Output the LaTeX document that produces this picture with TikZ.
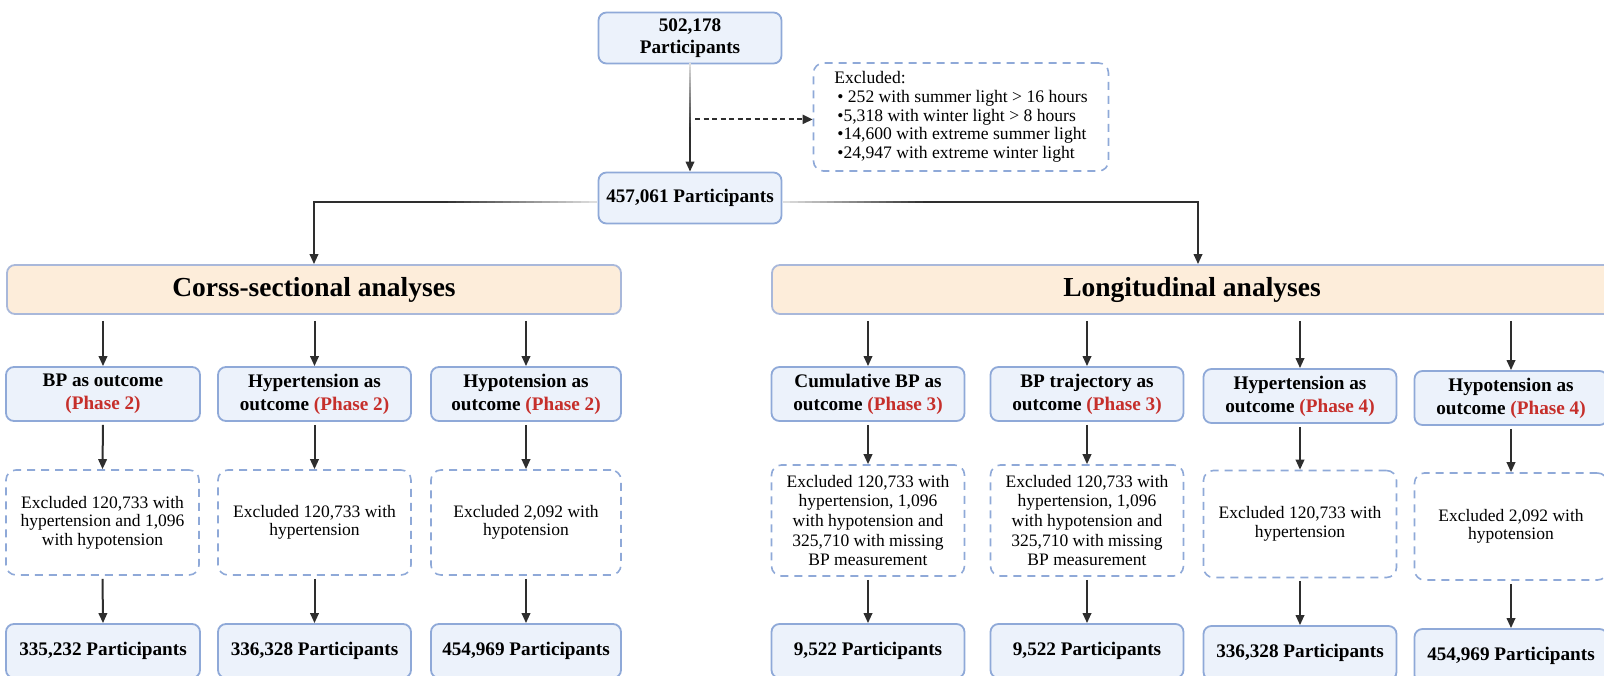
\documentclass[tikz,border=0pt]{standalone}
\usepackage{fontspec}
\setmainfont{Liberation Serif}
\usetikzlibrary{arrows.meta,calc}
\definecolor{boxfill}{HTML}{ECF2FB}
\definecolor{boxdraw}{HTML}{8FA9D8}
\definecolor{headfill}{HTML}{FDEDDA}
\definecolor{headdraw}{HTML}{A9B8DA}
\definecolor{phred}{HTML}{C62F2B}
\definecolor{arr}{HTML}{2E2E2E}
\newcommand{\ph}[1]{\textcolor{phred}{(Phase #1)}}
\begin{document}
\begin{tikzpicture}[x=1pt,y=-1pt,
  bluebox/.style={draw=boxdraw,fill=boxfill,line width=1.8pt,rounded corners=8pt,align=center,
    font=\fontsize{19.2}{23}\selectfont\bfseries,inner sep=0pt,minimum width=193pt,minimum height=54pt},
  headbox/.style={draw=headdraw,fill=headfill,line width=1.8pt,rounded corners=8pt,
    font=\fontsize{27.5}{30}\selectfont\bfseries,inner sep=0pt,minimum height=49pt},
  dbox/.style={draw=boxdraw,line width=1.6pt,dash pattern=on 8pt off 6pt,rounded corners=10pt,
    align=center,font=\fontsize{17.5}{18.6}\selectfont,inner sep=0pt,minimum width=193pt,minimum height=105pt},
  arrow/.style={draw=arr,line width=2pt,-{Triangle[length=10pt,width=8.5pt]}},
  fadeseg/.style={line width=2pt},
]
\useasboundingbox (0,0) rectangle (1604,675);
\clip (0,0) rectangle (1604,675);

% top part
\node[bluebox,minimum width=183pt,minimum height=51pt,font=\fontsize{19.2}{21.5}\selectfont\bfseries] (top) at (690,38) {502,178\\Participants};
\node[dbox,minimum width=295pt,minimum height=108pt,align=left,font=\fontsize{17.6}{18.7}\selectfont] (excl) at (961,117)
  {Excluded:\\\hspace*{3pt}• 252 with summer light > 16 hours\\\hspace*{3pt}•5,318 with winter light > 8 hours\\\hspace*{3pt}•14,600 with extreme summer light\\\hspace*{3pt}•24,947 with extreme winter light};
\node[bluebox,minimum width=183pt,minimum height=51pt] (n457) at (690,198) {457,061 Participants};

% section headers
\node[headbox,minimum width=614pt] (cross) at (314,289.5) {Corss-sectional analyses};
\node[headbox,minimum width=840pt] (long) at (1192,289.5) {Longitudinal analyses};

% phase boxes
\node[bluebox,minimum width=194pt] (p1) at (103,394) {BP as outcome\\\ph{2}};
\node[bluebox] (p2) at (314.5,394) {Hypertension as\\outcome \ph{2}};
\node[bluebox,minimum width=190pt] (p3) at (526,394) {Hypotension as\\outcome \ph{2}};
\node[bluebox] (p4) at (868,394) {Cumulative BP as\\outcome \ph{3}};
\node[bluebox] (p5) at (1087,394) {BP trajectory as\\outcome \ph{3}};
\node[bluebox] (p6) at (1300,396) {Hypertension as\\outcome \ph{4}};
\node[bluebox] (p7) at (1511,398) {Hypotension as\\outcome \ph{4}};

% exclusion boxes
\node[dbox,minimum width=193pt] (d1) at (102.5,522.5) {Excluded 120,733 with\\hypertension and 1,096\\with hypotension};
\node[dbox] (d2) at (314.5,522.5) {Excluded 120,733 with\\hypertension};
\node[dbox,minimum width=190pt] (d3) at (526,522.5) {Excluded 2,092 with\\hypotension};
\node[dbox,minimum height=111pt,font=\fontsize{17.5}{19.6}\selectfont] (d4) at (868,520.5) {Excluded 120,733 with\\hypertension, 1,096\\with hypotension and\\325,710 with missing\\BP measurement};
\node[dbox,minimum height=111pt,font=\fontsize{17.5}{19.6}\selectfont] (d5) at (1087,520.5) {Excluded 120,733 with\\hypertension, 1,096\\with hypotension and\\325,710 with missing\\BP measurement};
\node[dbox,minimum height=107pt] (d6) at (1300,524) {Excluded 120,733 with\\hypertension};
\node[dbox,minimum height=107pt] (d7) at (1511,526.5) {Excluded 2,092 with\\hypotension};

% bottom boxes
\node[bluebox,minimum width=194pt] (b1) at (103,651) {335,232 Participants};
\node[bluebox] (b2) at (314.5,651) {336,328 Participants};
\node[bluebox,minimum width=190pt] (b3) at (526,651) {454,969 Participants};
\node[bluebox] (b4) at (868,651) {9,522 Participants};
\node[bluebox] (b5) at (1087,651) {9,522 Participants};
\node[bluebox] (b6) at (1300,653) {336,328 Participants};
\node[bluebox] (b7) at (1511,656) {454,969 Participants};

% connectors top (faded part next to the boxes drawn as a colour ramp)
\coordinate (vt) at (690,130);
\coordinate (hl) at (440,202);
\coordinate (hr) at (930,202);
\foreach \k in {0,...,19}{
  \pgfmathsetmacro\c{100-\k*4.4}
  \pgfmathsetmacro\xa{440+\k*7.85}\pgfmathsetmacro\xb{\xa+8.3}
  \draw[fadeseg,draw=arr!\c] (\xa,202) -- (\xb,202);
  \pgfmathsetmacro\xa{930-\k*7.35}\pgfmathsetmacro\xb{\xa-7.8}
  \draw[fadeseg,draw=arr!\c] (\xa,202) -- (\xb,202);
  \pgfmathsetmacro\ya{130-\k*3.33}\pgfmathsetmacro\yb{\ya-3.7}
  \draw[fadeseg,draw=arr!\c] (690,\ya) -- (690,\yb);
}
\draw[arrow] (vt) -- (n457.north);
\coordinate (mid) at ($(top.south)+(0,55)$);
\draw[arr,line width=2pt,dash pattern=on 5pt off 3.5pt,-{Triangle[length=10pt,width=9pt]},shorten <=5pt] (mid) -- (excl.west |- mid);
\draw[arrow] (hl) -| (cross.north);
\draw[arrow] (hr) -| ($(long.north)+(6,0)$);

% connectors in columns
\foreach \i in {1,2,3}{
  \draw[arrow,shorten <=6pt] (cross.south -| p\i.north) -- (p\i.north);
}
\foreach \i in {4,5,6,7}{
  \draw[arrow,shorten <=6pt] (long.south -| p\i.north) -- (p\i.north);
}
\foreach \i in {1,...,7}{
  \draw[arrow,shorten <=3pt] (p\i.south) -- (d\i.north);
  \draw[arrow,shorten <=3pt] (d\i.south) -- (b\i.north);
}
\end{tikzpicture}
\end{document}
